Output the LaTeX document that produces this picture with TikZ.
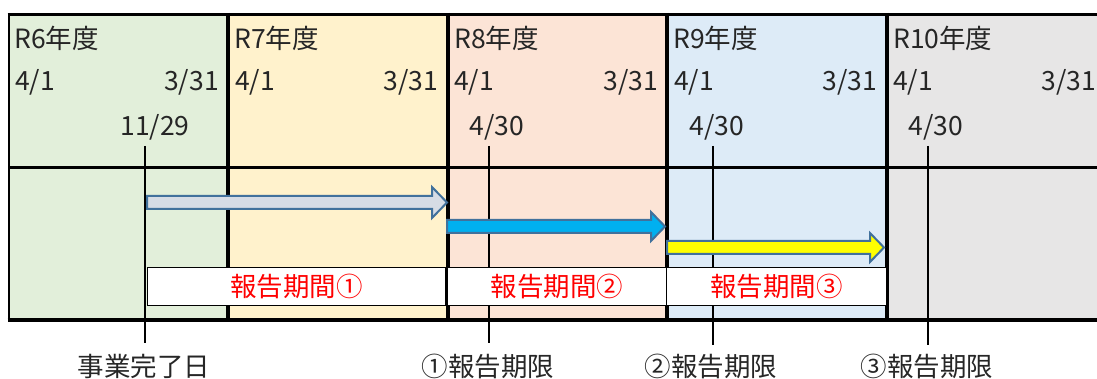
\documentclass[tikz,border=0pt]{standalone}
\usepackage{fontspec}
\setmainfont{Noto Sans CJK JP}
\definecolor{c6}{HTML}{E2EFDA}
\definecolor{c7}{HTML}{FFF2CC}
\definecolor{c8}{HTML}{FCE4D6}
\definecolor{c9}{HTML}{DDEBF7}
\definecolor{c10}{HTML}{E7E6E6}
\definecolor{abord}{HTML}{41719C}
\definecolor{a1}{HTML}{D6DCE5}
\definecolor{a2}{HTML}{00B0F0}
\definecolor{a3}{HTML}{FFFF00}
\definecolor{txt}{HTML}{262626}
\begin{document}
\begin{tikzpicture}[x=1pt,y=-1pt,
  lbl/.style={font=\fontsize{26.5}{26.5}\selectfont, text=txt, inner sep=0pt},
  pbox/.style={draw=black, line width=1.4pt, fill=white, inner sep=0pt,
    minimum height=38pt, anchor=north west, text=red,
    font=\fontsize{26.5}{26.5}\selectfont},
  blockarrow/.style={draw=abord, line width=2pt, line join=miter},
  thick line/.style={line width=3.5pt},
  tickline/.style={line width=2.2pt}]
\useasboundingbox (0,0) rectangle (1097,379);
% column fills
\fill[c6] (9,14.5) rectangle (228,320);
\fill[c7] (228,14.5) rectangle (448,320);
\fill[c8] (448,14.5) rectangle (667,320);
\fill[c9] (667,14.5) rectangle (887,320);
\fill[c10] (887,14.5) rectangle (1097,320);
% grid lines
\draw[line width=2.2pt] (9,167.5) -- (1097,167.5);
\draw[line width=2.6pt] (9,13) -- (9,321.5);
\foreach \x in {228,448,667,887} \draw[thick line] (\x,13) -- (\x,321.5);
\draw[thick line] (7.7,14.5) -- (1097,14.5);
\draw[thick line] (7.7,320) -- (1097,320);
% year labels
\node[lbl, anchor=west] (r6) at (14,38) {R6年度};
\node[lbl, anchor=west] (r7) at (234,38) {R7年度};
\node[lbl, anchor=west] (r8) at (454,38) {R8年度};
\node[lbl, anchor=west] (r9) at (673,38) {R9年度};
\node[lbl, anchor=west] (r10) at (893,38) {R10年度};
% start / end dates
\node[lbl, anchor=west] (s6) at (15,82) {4/1};
\node[lbl, anchor=east] (e6) at (219,82) {3/31};
\node[lbl, anchor=west] (s7) at (235,82) {4/1};
\node[lbl, anchor=east] (e7) at (438,82) {3/31};
\node[lbl, anchor=west] (s8) at (454,82) {4/1};
\node[lbl, anchor=east] (e8) at (658,82) {3/31};
\node[lbl, anchor=west] (s9) at (674,82) {4/1};
\node[lbl, anchor=east] (e9) at (877,82) {3/31};
\node[lbl, anchor=west] (s10) at (893,82) {4/1};
\node[lbl, anchor=east] (e10) at (1096,82) {3/31};
% key dates
\node[lbl] (d0) at (155,127) {11/29};
\node[lbl] (d1) at (497,127) {4/30};
\node[lbl] (d2) at (717,127) {4/30};
\node[lbl] (d3) at (936,127) {4/30};
% bottom labels
\node[lbl] (b0) at (144,366) {事業完了日};
\node[lbl] (b1) at (488,366) {①報告期限};
\node[lbl] (b2) at (711,366) {②報告期限};
\node[lbl] (b3) at (927,366) {③報告期限};
% tick lines
\coordinate (t0) at (145,146); \coordinate (u0) at (145,343);
\coordinate (t1) at (489,146); \coordinate (u1) at (489,343);
\coordinate (t2) at (713,146); \coordinate (u2) at (713,345);
\coordinate (t3) at (928,146); \coordinate (u3) at (928,345);
\foreach \i in {0,1,2,3} \draw[tickline] (t\i) -- (u\i);
% block arrows
\filldraw[blockarrow, fill=a1] (147,196) -- (432,196) -- (432,187) -- (447,202.5) -- (432,218) -- (432,209) -- (147,209) -- cycle;
\filldraw[blockarrow, fill=a2] (447,220) -- (651,220) -- (651,212) -- (665,226.5) -- (651,241) -- (651,233) -- (447,233) -- cycle;
\filldraw[blockarrow, fill=a3] (667,241) -- (870,241) -- (870,233) -- (884,247.5) -- (870,262) -- (870,254) -- (667,254) -- cycle;
% report period boxes
\node[pbox, minimum width=298pt] (p1) at (147,267) {報告期間①};
\node[pbox, minimum width=219pt] (p2) at (447,267) {報告期間②};
\node[pbox, minimum width=220pt] (p3) at (666,267) {報告期間③};
\end{tikzpicture}
\end{document}
